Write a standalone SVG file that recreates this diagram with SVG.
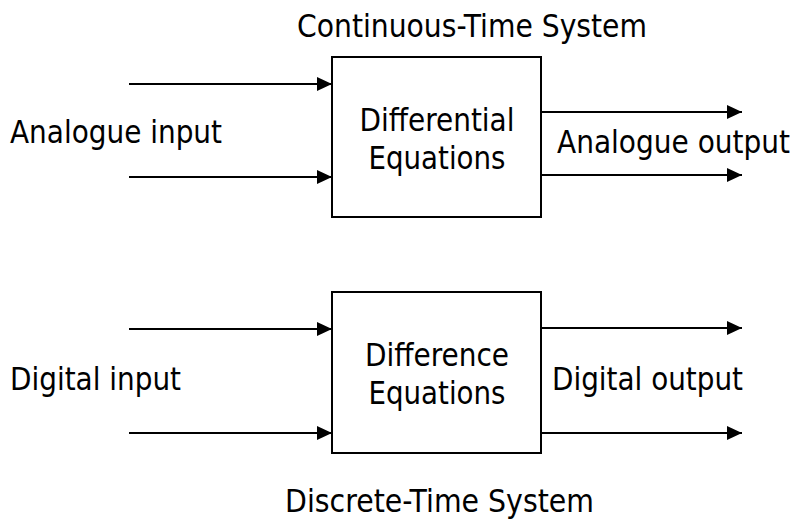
<svg xmlns="http://www.w3.org/2000/svg" width="795" height="521" viewBox="0 0 795 521">
<style>
text{font-family:"DejaVu Sans Condensed","DejaVu Sans",sans-serif;font-stretch:condensed;font-size:32px;fill:#000}
.box{fill:#fff;stroke:#000;stroke-width:2}
.wire{stroke:#000;stroke-width:2;fill:none;marker-end:url(#ah)}
.mid{text-anchor:middle}
</style>
<defs>
<marker id="ah" markerUnits="userSpaceOnUse" markerWidth="18" markerHeight="16" refX="16" refY="8" orient="auto">
<path d="M1,1 L16,8 L1,15 z" fill="#000"/>
</marker>
</defs>
<rect width="795" height="521" fill="#fff"/>
<g id="connectors">
<line class="wire" x1="129" y1="84" x2="332" y2="84"/>
<line class="wire" x1="129" y1="177" x2="332" y2="177"/>
<line class="wire" x1="541" y1="112" x2="742" y2="112"/>
<line class="wire" x1="541" y1="175" x2="742" y2="175"/>
<line class="wire" x1="129" y1="329" x2="332" y2="329"/>
<line class="wire" x1="129" y1="433" x2="332" y2="433"/>
<line class="wire" x1="541" y1="328" x2="742" y2="328"/>
<line class="wire" x1="541" y1="433" x2="742" y2="433"/>
</g>
<g id="continuous">
<text x="297" y="37" textLength="350" lengthAdjust="spacingAndGlyphs">Continuous-Time System</text>
<rect class="box" x="332" y="57" width="209" height="160"/>
<text class="mid" x="437" y="131" textLength="155" lengthAdjust="spacingAndGlyphs">Differential</text>
<text class="mid" x="437" y="169" textLength="137" lengthAdjust="spacingAndGlyphs">Equations</text>
</g>
<g id="analogue-input"><text x="10" y="143" textLength="212" lengthAdjust="spacingAndGlyphs">Analogue input</text></g>
<g id="analogue-output"><text x="557" y="153" textLength="233" lengthAdjust="spacingAndGlyphs">Analogue output</text></g>
<g id="discrete">
<rect class="box" x="332" y="292" width="209" height="161"/>
<text class="mid" x="437" y="366" textLength="144" lengthAdjust="spacingAndGlyphs">Difference</text>
<text class="mid" x="437" y="404" textLength="137" lengthAdjust="spacingAndGlyphs">Equations</text>
<text x="285" y="512" textLength="309" lengthAdjust="spacingAndGlyphs">Discrete-Time System</text>
</g>
<g id="digital-input"><text x="10" y="390" textLength="171" lengthAdjust="spacingAndGlyphs">Digital input</text></g>
<g id="digital-output"><text x="552" y="390" textLength="191" lengthAdjust="spacingAndGlyphs">Digital output</text></g>
</svg>
